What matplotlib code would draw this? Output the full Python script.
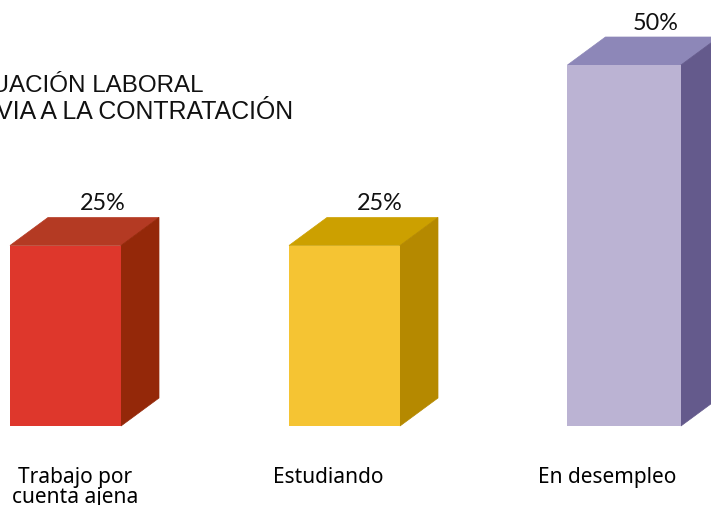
import matplotlib
matplotlib.use('Agg')
from matplotlib import pyplot as plt

#datos
categorias=['Trabajo por\ncuenta ajena','Estudiando','En desempleo']
valores=[25,25,50]
etiquetas=['25%','25%','50%']
col_frente=['#de372c','#f5c433','#bbb3d3']
col_arriba=['#b43a23','#cca000','#8d87b8']
col_lado=['#942809','#b58900','#645a8c']

#escala en pixeles de la imagen
W,H=711,506
base=427
px_por_valor=7.22
dx,dy=38,28/px_por_valor

fig=plt.figure(figsize=(W/100,H/100),dpi=100)
ax=fig.add_axes([0,0,1,1])
ax.set_xlim(0,W)
ax.set_ylim(-(H-base)/px_por_valor,base/px_por_valor)
ax.axis('off')

centros=[65.5,344.5,624.2]
anchos=[111,111,113.5]
x_etiqueta=[102.5,380,656]
x_categoria=[75,328,607]

for i,v in enumerate(valores):
    c=centros[i]
    x0,x1=c-anchos[i]/2,c+anchos[i]/2
    ax.fill([x0,x1,x1+dx,x0+dx],[v,v,v+dy,v+dy],color=col_arriba[i],linewidth=0.5)
    ax.fill([x1,x1+dx,x1+dx,x1],[0,dy,v+dy,v],color=col_lado[i],linewidth=0.5)
    ax.bar(c,v,width=anchos[i],color=col_frente[i],linewidth=0,zorder=3)
    #porcentaje encima de la barra
    ax.text(x_etiqueta[i],v+dy+0.6,etiquetas[i],ha='center',va='bottom',fontsize=16.8,family='Lato',color='#111111')

#etiquetas de abajo
for i,cat in enumerate(categorias):
    ax.text(x_categoria[i],-(467-base)/px_por_valor,cat,ha='center',va='top',
            fontsize=15,family='Noto Sans',color='black',linespacing=0.95)

#titulo, cortado por el borde izquierdo como en el original
fig.text(203/W,1-92/H,'SITUACIÓN LABORAL',ha='right',fontsize=17.4,family='Liberation Sans',color='#111111')
fig.text(293/W,1-119/H,'PREVIA A LA CONTRATACIÓN',ha='right',fontsize=17.9,family='Liberation Sans',color='#111111')

fig.savefig('out.png',dpi=100)
